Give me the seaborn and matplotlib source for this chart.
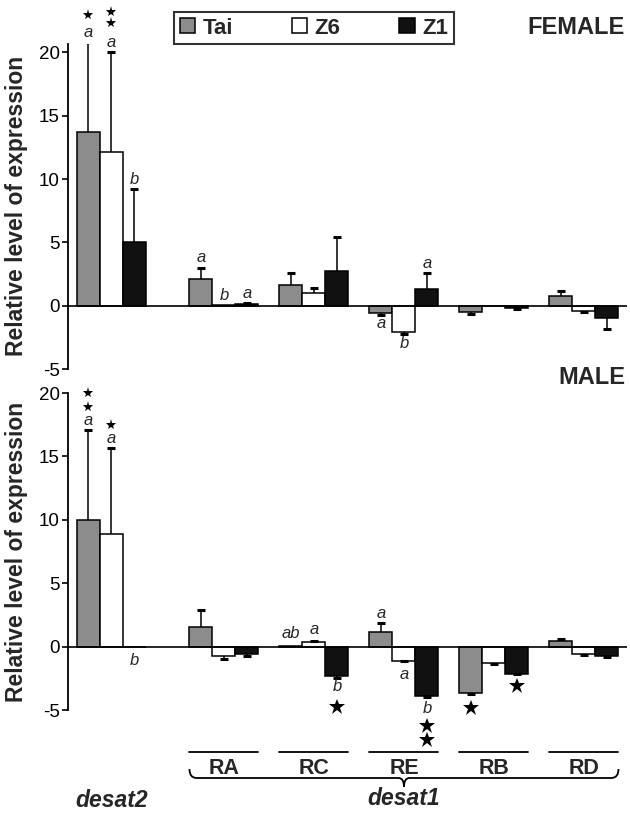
import numpy as np
import pandas as pd
import matplotlib.pyplot as plt
import seaborn as sns
from matplotlib.patches import Patch, PathPatch
from matplotlib.path import Path
import matplotlib.transforms as mtransforms


groups = ['desat2', 'RA', 'RC', 'RE', 'RB', 'RD']
group_pos = [0, 1.25, 2.25, 3.25, 4.25, 5.25]
strains = ['Tai', 'Z6', 'Z1']
colors = {'Tai': '#8c8c8c', 'Z6': 'white', 'Z1': '#111111'}

# FEMALE
female_tai = [13.7, 2.1, 1.66, -0.6, -0.53, 0.79]
female_tai_err = [7.1, 0.9, 0.95, 0.1, 0.12, 0.34]
female_z6 = [12.1, 0.02, 1.0, -2.1, -0.05, -0.4]
female_z6_err = [7.9, 0.0, 0.4, 0.1, 0.0, 0.1]
female_z1 = [5.0, 0.13, 2.76, 1.29, -0.18, -0.97]
female_z1_err = [4.2, 0.07, 2.7, 1.26, 0.1, 0.87]

# MALE
male_tai = [10.0, 1.55, 0.08, 1.16, -3.66, 0.42]
male_tai_err = [7.1, 1.32, 0.0, 0.71, 0.06, 0.21]
male_z6 = [8.85, -0.71, 0.4, -1.1, -1.29, -0.58]
male_z6_err = [6.85, 0.26, 0.05, 0.05, 0.06, 0.07]
male_z1 = [-0.05, -0.6, -2.35, -3.92, -2.13, -0.77]
male_z1_err = [0.0, 0.15, 0.1, 0.08, 0.07, 0.08]

# letters / stars: group, strain, text, offset in px from error bar end, size
female_marks = [
    ('desat2', 'Tai', 'a', 10, 12), ('desat2', 'Tai', '*', 27, 8),
    ('desat2', 'Z6', 'a', 10, 12), ('desat2', 'Z6', '*', 29, 8), ('desat2', 'Z6', '*', 40, 8),
    ('desat2', 'Z1', 'b', 10, 12),
    ('RA', 'Tai', 'a', 10, 12), ('RA', 'Z6', 'b', 10, 12), ('RA', 'Z1', 'a', 10, 12),
    ('RE', 'Tai', 'a', -9, 12), ('RE', 'Z6', 'b', -10, 12), ('RE', 'Z1', 'a', 10, 12),
]
male_marks = [
    ('desat2', 'Tai', 'a', 9, 12), ('desat2', 'Tai', '*', 23, 8), ('desat2', 'Tai', '*', 37, 8),
    ('desat2', 'Z6', 'a', 9, 12), ('desat2', 'Z6', '*', 23, 8),
    ('desat2', 'Z1', 'b', -13, 12),
    ('RC', 'Tai', 'ab', 12, 12), ('RC', 'Z6', 'a', 11, 12),
    ('RC', 'Z1', 'b', -9, 12), ('RC', 'Z1', '*', -29, 12),
    ('RE', 'Tai', 'a', 9, 12), ('RE', 'Z6', 'a', -13, 12),
    ('RE', 'Z1', 'b', -11, 12), ('RE', 'Z1', '*', -29, 12), ('RE', 'Z1', '*', -43, 12),
    ('RB', 'Tai', '*', -14, 12), ('RB', 'Z1', '*', -12, 12),
]


def long_table(vals, errs):
    rows = []
    for strain, v_list, e_list in zip(strains, vals, errs):
        for g, p, v, e in zip(groups, group_pos, v_list, e_list):
            rows.append({'group': g, 'pos': p, 'strain': strain, 'value': v, 'err': e})
    return pd.DataFrame(rows)


female = long_table([female_tai, female_z6, female_z1],
                    [female_tai_err, female_z6_err, female_z1_err])
male = long_table([male_tai, male_z6, male_z1],
                  [male_tai_err, male_z6_err, male_z1_err])

sns.set_style('white')
plt.rcParams['font.family'] = ['Liberation Sans', 'DejaVu Sans']
plt.rcParams['axes.unicode_minus'] = False

fig = plt.figure(figsize=(6.3, 8.13), dpi=100)
ax_f = fig.add_axes([68 / 630, 1 - 369 / 813, 559 / 630, 325.4 / 813])
ax_m = fig.add_axes([68 / 630, 1 - 710 / 813, 559 / 630, 317 / 813])


def draw_panel(ax, df, marks, ymax):
    sns.barplot(data=df, x='pos', y='value', hue='strain', hue_order=strains,
                palette=colors, native_scale=True, width=0.767, edgecolor='black',
                linewidth=1.1, errorbar=None, legend=False, ax=ax, zorder=2)
    centers = {}
    for bar in ax.patches:
        cx = bar.get_x() + bar.get_width() / 2
        gi = int(np.argmin(np.abs(np.array(group_pos) - cx)))
        si = int(round((cx - group_pos[gi]) / bar.get_width())) + 1
        centers[(groups[gi], strains[si])] = (cx, bar.get_width())

    # one-sided error bars, cap only at the outer end
    for _, r in df.iterrows():
        if r.err <= 0:
            continue
        cx, w = centers[(r.group, r.strain)]
        yerr = [[0], [r.err]] if r.value >= 0 else [[r.err], [0]]
        _, caps, _ = ax.errorbar(cx, r.value, yerr=yerr, fmt='none', ecolor='black',
                                 elinewidth=1.1, capsize=2.8, capthick=2.2, zorder=3)
        caps[0 if r.value >= 0 else 1].set_visible(False)

    for g, s, txt, off, size in marks:
        r = df[(df.group == g) & (df.strain == s)].iloc[0]
        end = r.value + r.err if off > 0 else r.value - r.err
        cx, w = centers[(g, s)]
        if txt == '*':
            tr = mtransforms.offset_copy(ax.transData, fig=fig, x=0, y=off, units='dots')
            ax.plot(cx, end, marker='*', ms=size, color='black', mew=0,
                    transform=tr, clip_on=False, zorder=5)
        else:
            ax.annotate(txt, (cx, end), xytext=(0, off * 0.72), textcoords='offset points',
                        ha='center', va='center', fontsize=size, fontstyle='italic',
                        annotation_clip=False)

    ax.axhline(0, color='black', lw=1.2, zorder=4)
    ax.set_xlim(-0.483, 5.728)
    ax.set_ylim(-5, ymax)
    ax.set_yticks([-5, 0, 5, 10, 15, 20])
    ax.set_xticks([])
    ax.set_xlabel('')
    ax.set_ylabel('Relative level of expression', fontsize=16.5, fontweight='bold')
    ax.yaxis.set_label_coords(-0.072, 0.5)
    for side in ['top', 'right', 'bottom']:
        ax.spines[side].set_visible(False)
    ax.spines['left'].set_linewidth(1.3)
    ax.spines['left'].set_color('black')
    ax.tick_params(axis='y', direction='out', length=4, width=1.2, labelsize=13.5,
                   left=True, pad=2, colors='black')
    return centers


draw_panel(ax_f, female, female_marks, 20.7)
centers = draw_panel(ax_m, male, male_marks, 20)

fig.text(625 / 630, 1 - 27 / 813, 'FEMALE', ha='right', va='center', fontsize=17, fontweight='bold')
fig.text(625 / 630, 1 - 377 / 813, 'MALE', ha='right', va='center', fontsize=17, fontweight='bold')

handles = [Patch(facecolor=colors[s], edgecolor='black', linewidth=1.1, label=s) for s in strains]
leg = fig.legend(handles=handles, loc='upper left', bbox_to_anchor=(174 / 630, 1 - 12 / 813),
                 ncol=3, frameon=True, fancybox=False, edgecolor='black',
                 prop={'weight': 'bold', 'size': 16}, handlelength=0.68, handleheight=0.68,
                 handletextpad=0.35, columnspacing=2.65, borderpad=0.25, borderaxespad=0)
leg.get_frame().set_linewidth(1.5)

# desat1 isoform brackets under the male panel
trans = mtransforms.blended_transform_factory(ax_m.transData, fig.transFigure)
for g in groups[1:]:
    left = centers[(g, 'Tai')][0] - centers[(g, 'Tai')][1] / 2
    right = centers[(g, 'Z1')][0] + centers[(g, 'Z1')][1] / 2
    ax_m.plot([left, right], [1 - 752 / 813] * 2, color='black', lw=1.3,
              transform=trans, clip_on=False)
    ax_m.text((left + right) / 2, 1 - 768 / 813, g, transform=trans, ha='center',
              va='center', fontsize=15.5, fontweight='bold')

xl = centers[('RA', 'Tai')][0] - centers[('RA', 'Tai')][1] / 2
xr = centers[('RD', 'Z1')][0] + centers[('RD', 'Z1')][1] / 2
xm = group_pos[groups.index('RE')]
y_top, y_h, y_tip = 1 - 769 / 813, 1 - 778 / 813, 1 - 787 / 813
verts = [(xl, y_top), (xl, y_h), (xl + 0.08, y_h), (xm - 0.06, y_h),
         (xm, y_h), (xm, y_tip), (xm, y_h), (xm + 0.06, y_h),
         (xr - 0.08, y_h), (xr, y_h), (xr, y_top)]
codes = [Path.MOVETO, Path.CURVE3, Path.CURVE3, Path.LINETO,
         Path.CURVE3, Path.CURVE3, Path.CURVE3, Path.CURVE3,
         Path.LINETO, Path.CURVE3, Path.CURVE3]
ax_m.add_patch(PathPatch(Path(verts, codes), facecolor='none', edgecolor='black',
                         lw=1.3, transform=trans, clip_on=False))

ax_m.text(group_pos[0], 1 - 800 / 813, 'desat2', transform=trans, ha='center', va='center',
          fontsize=16.5, fontweight='bold', fontstyle='italic')
ax_m.text(xm, 1 - 798 / 813, 'desat1', transform=trans, ha='center', va='center',
          fontsize=16.5, fontweight='bold', fontstyle='italic')

plt.savefig('out.png', dpi=100)
